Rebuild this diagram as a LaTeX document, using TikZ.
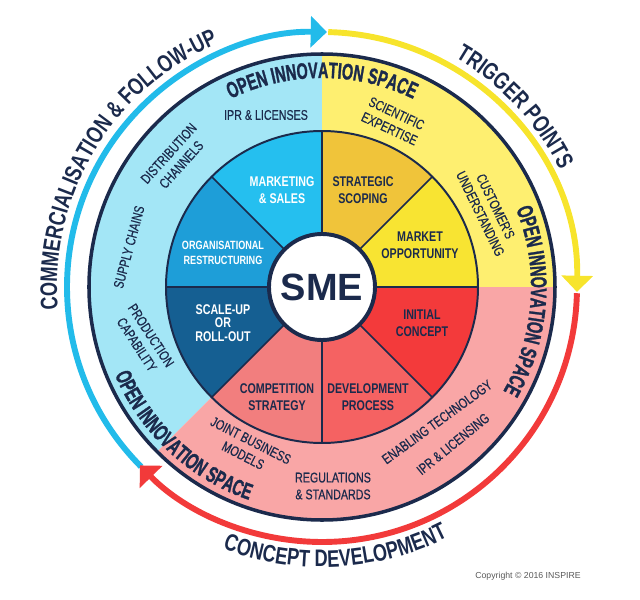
\documentclass[tikz,border=0pt]{standalone}
\usepackage{fontspec}
\setmainfont{Liberation Sans}[FakeStretch=0.76]
\newfontfamily\smefont{Liberation Sans}
\newfontfamily\itemfont{Liberation Sans}[FakeStretch=0.76,FakeBold=0.5]
\newfontfamily\oisfont{Liberation Sans}[FakeStretch=0.64,FakeBold=1.2]
\usepackage{tikz}
\usetikzlibrary{arrows.meta,decorations.text}

\definecolor{navy}{HTML}{1B2A4C}
\definecolor{arcblue}{HTML}{22BBEA}
\definecolor{arcyellow}{HTML}{F7E42C}
\definecolor{arcred}{HTML}{F23A3A}
\definecolor{softblue}{HTML}{A3E6F6}
\definecolor{softyellow}{HTML}{FEEF70}
\definecolor{softpink}{HTML}{F9A6A6}
\definecolor{mktcol}{HTML}{25BFEF}
\definecolor{orgcol}{HTML}{1E9ED8}
\definecolor{scalecol}{HTML}{155F92}
\definecolor{compcol}{HTML}{F27E7E}
\definecolor{devcol}{HTML}{F56262}
\definecolor{initcol}{HTML}{F33A3B}
\definecolor{oppcol}{HTML}{F8E432}
\definecolor{stratcol}{HTML}{F0C43A}

\newcommand{\arcfont}{\bfseries\fontsize{17}{20}\selectfont}
\newcommand{\spacetext}{\oisfont\bfseries\fontsize{16}{18}\selectfont}

\begin{document}
\begin{tikzpicture}[x=0.025cm,y=0.025cm,
		sect/.style={font=\bfseries\fontsize{10}{12}\selectfont,align=center,text=navy},
		sectw/.style={sect,text=white},
		item/.style={font=\itemfont\fontsize{10}{12}\selectfont,align=center,text=navy},
		flow/.style={line width=4.2pt,-{Triangle[length=11.5pt,width=22pt]}},
		ringtext/.style={decorate,decoration={text along path,text align=center,text color=navy,text={#1}}}]
		\useasboundingbox (-322,-313) rectangle (318,287);
		
		\fill[softyellow] (0,0) -- (0:233) arc[start angle=0,delta angle=90,radius=233] -- cycle;
		\fill[softblue] (0,0) -- (90:233) arc[start angle=90,delta angle=135,radius=233] -- cycle;
		\fill[softpink] (0,0) -- (225:233) arc[start angle=225,delta angle=135,radius=233] -- cycle;
		\draw[navy,line width=2.5pt] (0,0) circle[radius=233];
		
		\foreach \a/\c in {0/oppcol,45/stratcol,90/mktcol,135/orgcol,180/scalecol,225/compcol,270/devcol,315/initcol}
			\fill[\c] (0,0) -- (\a:156) arc[start angle=\a,delta angle=45,radius=156] -- cycle;
		\foreach \a in {0,45,...,315}
			\draw[navy,line width=1.1pt] (0,0) -- (\a:156);
		\draw[navy,line width=1.4pt] (0,0) circle[radius=156];
		\node[circle,fill=white,draw=navy,line width=2.8pt,minimum size=2.65cm,inner sep=0pt,text=navy,font=\smefont\bfseries\fontsize{27}{27}\selectfont] (sme) at (0,0) {SME};
		
		\node[sectw] (mkt) at (-40,97) {MARKETING\\\& SALES};
		\node[sect] (strat) at (41,97) {STRATEGIC\\SCOPING};
		\node[sect] (opp) at (98,42) {MARKET\\OPPORTUNITY};
		\node[sect] (init) at (100,-36) {INITIAL\\CONCEPT};
		\node[sect] (dev) at (46,-110) {DEVELOPMENT\\PROCESS};
		\node[sect] (comp) at (-45,-110) {COMPETITION\\STRATEGY};
		\node[sectw,font=\bfseries\fontsize{10}{9.8}\selectfont] (scale) at (-99,-36) {SCALE-UP\\OR\\ROLL-OUT};
		\node[sectw,font=\bfseries\fontsize{8.5}{10.7}\selectfont] (org) at (-99,34) {ORGANISATIONAL\\RESTRUCTURING};
		
		\node[item] (ipr) at (-56,172) {IPR \& LICENSES};
		\node[item,rotate=48] (distr) at (-147,128) {DISTRIBUTION\\CHANNELS};
		\node[item,rotate=75] (supply) at (-193,40) {SUPPLY CHAINS};
		\node[item,rotate=-57] (prod) at (-178,-53) {PRODUCTION\\CAPABILITY};
		\node[item,rotate=-25] (sci) at (71,166) {SCIENTIFIC\\EXPERTISE};
		\node[item,rotate=-64] (cust) at (166,77) {CUSTOMER'S\\UNDERSTANDING};
		\node[item,rotate=-27] (joint) at (-75,-161) {JOINT BUSINESS\\MODELS};
		\node[item] (reg) at (11,-199) {REGULATIONS\\\& STANDARDS};
		\node[item,rotate=36] (enab) at (115,-135) {ENABLING TECHNOLOGY};
		\node[item,rotate=39] (iprl) at (131,-157) {IPR \& LICENSING};
		
		\path[ringtext={|\spacetext|OPEN INNOVATION SPACE}] (180:209) arc[start angle=180,end angle=0,radius=209];
		\path[ringtext={|\spacetext|OPEN INNOVATION SPACE}] (86:209) arc[start angle=86,end angle=-94,radius=209];
		\path[ringtext={|\spacetext|OPEN INNOVATION SPACE}] (137:225) arc[start angle=137,end angle=317,radius=225];
		
		\draw[flow,arcblue] (224.8:255) arc[start angle=224.8,end angle=88.9,radius=255];
		\draw[flow,arcyellow] (88.6:255) arc[start angle=88.6,end angle=-1.1,radius=255];
		\draw[flow,arcred] (-1.4:255) arc[start angle=-1.4,end angle=-135.6,radius=255];
		
		\path[ringtext={|\arcfont|COMMERCIALISATION {\&} FOLLOW-UP}] (239:265) arc[start angle=239,end angle=59,radius=265];
		\path[ringtext={|\arcfont|TRIGGER POINTS}] (133:265) arc[start angle=133,end angle=-47,radius=265];
		\path[ringtext={|\arcfont|CONCEPT DEVELOPMENT}] (183:280) arc[start angle=183,end angle=363,radius=280];
		
		\node[font=\smefont\fontsize{6.2}{7}\selectfont,text=black!65] (copy) at (206,-289) {Copyright © 2016 INSPIRE};
	\end{tikzpicture}
\end{document}
